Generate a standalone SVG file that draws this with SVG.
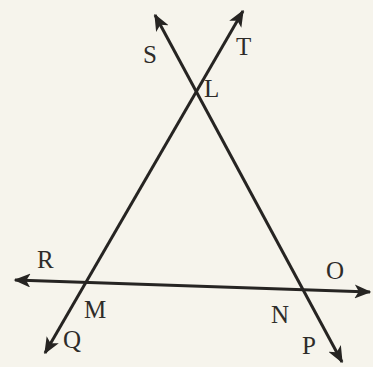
<svg xmlns="http://www.w3.org/2000/svg" width="373" height="367" viewBox="0 0 373 367">
<style>
.ln{stroke:#262422;stroke-width:3;fill:none;marker-start:url(#ah);marker-end:url(#ah)}
.lb{font-family:"Liberation Serif",serif;font-size:25px;fill:#2e2c29}
</style>
<defs>
<marker id="ah" viewBox="0 0 12 10" refX="11" refY="5" markerWidth="17" markerHeight="14" markerUnits="userSpaceOnUse" orient="auto-start-reverse">
<path d="M0,0 L12,5 L0,10 L3,5 z" fill="#262422"/>
</marker>
</defs>
<rect width="373" height="367" fill="#f6f4ec"/>
<g id="connectors">
<line class="ln" x1="45" y1="353" x2="243" y2="11"/>
<line class="ln" x1="155" y1="15" x2="342" y2="362"/>
<line class="ln" x1="15" y1="280" x2="370" y2="292"/>
</g>
<g id="S"><text class="lb" x="143" y="63">S</text></g>
<g id="T"><text class="lb" x="236" y="55">T</text></g>
<g id="L"><text class="lb" x="204" y="97">L</text></g>
<g id="R"><text class="lb" x="37" y="268">R</text></g>
<g id="M"><text class="lb" x="84" y="318">M</text></g>
<g id="Q"><text class="lb" x="63" y="348">Q</text></g>
<g id="N"><text class="lb" x="271" y="323">N</text></g>
<g id="O"><text class="lb" x="326" y="279">O</text></g>
<g id="P"><text class="lb" x="302" y="354">P</text></g>
</svg>
